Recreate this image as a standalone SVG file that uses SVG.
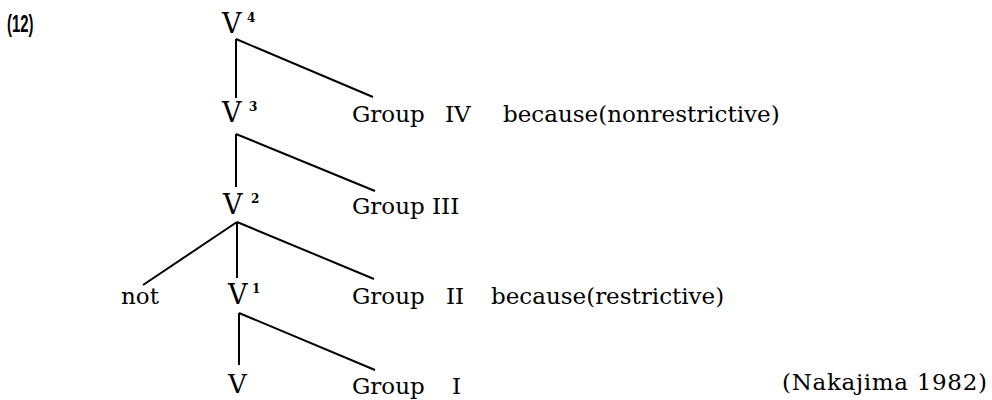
<svg xmlns="http://www.w3.org/2000/svg" width="992" height="400" viewBox="0 0 992 400">
<style>
text{font-family:"DejaVu Serif","Liberation Serif",serif;fill:#000}
.v{font-size:27px}
.t{font-size:23px}
.s{font-size:12px;font-weight:bold}
.n{font-family:"Liberation Sans",Arial,sans-serif;font-weight:bold;font-size:24px}
.e{stroke:#000;stroke-width:2;fill:none;stroke-linecap:butt}
</style>
<rect width="992" height="400" fill="#fff"/>
<g id="label12"><text class="n" transform="translate(7,32) scale(0.62,1)">(12)</text></g>
<g id="V4"><text class="v" x="222" y="33">V</text><text class="s" x="247" y="22">4</text></g>
<g id="V3"><text class="v" x="222" y="122">V</text><text class="s" x="249" y="111">3</text></g>
<g id="V2"><text class="v" x="223" y="214">V</text><text class="s" x="251" y="203">2</text></g>
<g id="V1"><text class="v" x="228" y="304">V</text><text class="s" x="252" y="293">1</text></g>
<g id="V0"><text class="v" x="228" y="393" style="font-size:26px">V</text></g>
<g id="not"><text class="t" x="121" y="304">not</text></g>
<g id="group4"><text class="t" x="352" y="122">Group</text><text class="t" x="445" y="122">IV</text></g>
<g id="group3"><text class="t" x="352" y="214">Group</text><text class="t" x="432" y="214">III</text></g>
<g id="group2"><text class="t" x="352" y="304">Group</text><text class="t" x="446" y="304">II</text></g>
<g id="group1"><text class="t" x="352" y="394">Group</text><text class="t" x="452" y="394">I</text></g>
<g id="because-nonrestrictive"><text class="t" x="503" y="122">because(nonrestrictive)</text></g>
<g id="because-restrictive"><text class="t" x="491" y="304">because(restrictive)</text></g>
<g id="citation"><text class="t" x="782" y="390" textLength="205" lengthAdjust="spacing">(Nakajima 1982)</text></g>
<g id="connectors">
<path class="e" d="M236,39V98M236,39L373,97"/>
<path class="e" d="M236,134V187M236,134L375,191"/>
<path class="e" d="M237,222L143,285M237,222V278M237,222L374,279"/>
<path class="e" d="M239,313V365M239,313L375,370"/>
</g>
</svg>
